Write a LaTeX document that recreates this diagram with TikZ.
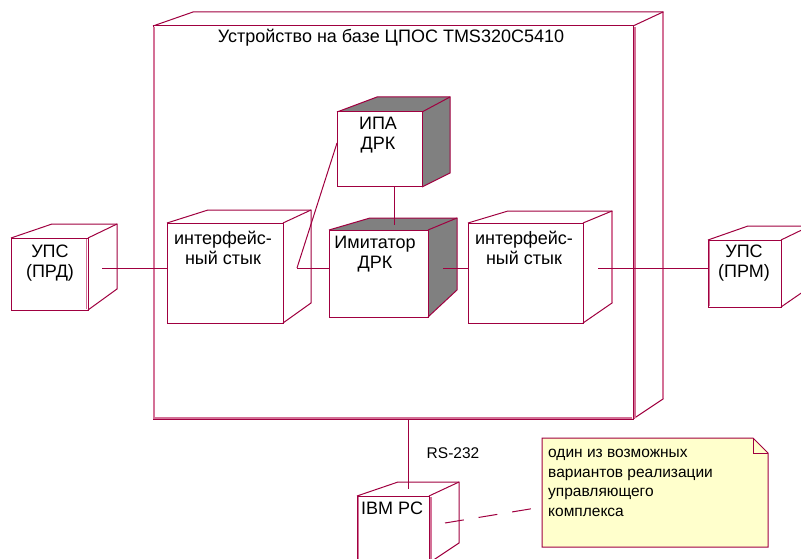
\documentclass[tikz,border=0pt]{standalone}
\usepackage{fontspec}
\setmainfont{Liberation Sans}
\definecolor{rose}{RGB}{160,0,64}
\definecolor{rosepink}{RGB}{212,112,150}
\definecolor{notefill}{RGB}{255,255,204}
\definecolor{darkface}{RGB}{128,128,128}
\tikzset{
  edge/.style={draw=rose, line width=1pt},
  front/.style={draw=rose, line width=1pt, fill=white, inner sep=0pt, outer sep=0pt, anchor=north west},
  lbl/.style={font=\fontsize{18}{20.5}\selectfont, align=center, inner sep=0pt, text=black},
  small/.style={font=\fontsize{15.5}{20}\selectfont, inner sep=0pt, text=black},
  notetext/.style={font=\fontsize{15.5}{19.7}\selectfont, align=left, inner sep=0pt, text=black},
  link/.style={draw=rose, line width=1pt},
  hl/.style={draw=rosepink, line width=1.3pt},
}
\def\rfill{white}
% name, x1, y1, x2, y2, back top y, back left x, back right x, back right bottom y
\newcommand{\rbox}[9]{%
  \fill[\rfill] (#2,#3) -- (#7,#6) -- (#8,#6) -- (#8,#9) -- (#4,#5) -- (#4,#3) -- cycle;
  \node[front, minimum width={#4pt-#2pt}, minimum height={#5pt-#3pt}] (#1) at (#2,#3) {};
  \draw[edge] (#1.north west) -- (#7,#6) -- (#8,#6) -- (#8,#9) -- (#1.south east);
  \draw[edge] (#1.north east) -- (#8,#6);
}
\begin{document}
\begin{tikzpicture}[x=1pt, y=-1pt]
\path[use as bounding box, fill=white] (0,0) rectangle (801,559);
\clip (0,0) rectangle (801,559);

% main device
\rbox{dev}{153}{26}{633}{419}{12}{193}{663}{399}
\draw[hl] (154,27) -- (154,418) -- (632,418);
\draw[hl] (635,27) -- (635,418);
\draw[hl] (663,13) -- (663,398);
\node[lbl] (title) at (391,38) {Устройство на базе ЦПОС TMS320C5410};

% external nodes
\rbox{prd}{11}{238}{88}{310}{224}{52}{117}{289}
\draw[hl] (86.5,239) -- (86.5,309);
\node[lbl] (prdt) at (50,263) {УПС\\(ПРД)};

\rbox{prm}{708}{240}{781}{307}{226}{748}{810}{287}
\draw[hl] (709.5,241) -- (709.5,306);
\node[lbl] (prmt) at (744,263) {УПС\\(ПРМ)};

% interfaces
\rbox{ifl}{167}{223}{283}{323}{210}{208}{311}{303}
\node[lbl] (iflt) at (223,248) {интерфейс-\\ный стык};

\rbox{ifr}{468}{223}{583}{323}{211}{508}{612}{303}
\draw[hl] (612,212) -- (612,302);
\node[lbl] (ifrt) at (524,248) {интерфейс-\\ный стык};

% shaded nodes
\def\rfill{darkface}
\rbox{ipa}{337}{112}{422}{187}{97}{377}{450}{173}
\node[lbl] (ipat) at (378,135) {ИПА\\ДРК};

\rbox{imit}{329}{230}{428}{317}{218}{370}{457}{290}
\node[lbl] (imitt) at (375,254) {Имитатор\\ДРК};
\def\rfill{white}

% IBM PC
\rbox{pc}{357}{496}{429}{563}{482}{398}{459}{543}
\draw[hl] (358.5,497) -- (358.5,559);
\draw[hl] (431,497) -- (431,559);
\node[lbl, anchor=west] (pct) at (361,508) {IBM PC};

% connectors
\coordinate (prdOut) at (102,268);
\draw[link] (prdOut) -- (prdOut -| ifl.west);
\coordinate (iflOut) at (297,268);
\draw[link] (iflOut) -- (iflOut -| imit.west);
\coordinate (ipaIn) at (337,143);
\draw[link] (iflOut) -- (ipaIn);
\coordinate (ipaOut) at (394,187);
\coordinate (imitIn) at (394,225);
\draw[link] (ipaOut) -- (imitIn);
\coordinate (imitOut) at (443,268);
\draw[link] (imitOut) -- (imitOut -| ifr.west);
\coordinate (ifrOut) at (598,268);
\draw[link] (ifrOut) -- (ifrOut -| prm.west);
\coordinate (devOut) at (408,419);
\coordinate (pcIn) at (408,489);
\draw[link] (devOut) -- (pcIn);
\node[small] (rs) at (453,453) {RS-232};

% note
\draw[rose, line width=1pt, fill=notefill] (542,438) -- (753,438) -- (768,453) -- (768,547) -- (542,547) -- cycle;
\draw[rose, line width=1pt] (753,438) -- (753,453) -- (768,453);
\node[notetext, anchor=north west] (note) at (548,449) {один из возможных\\вариантов  реализации\\управляющего\\комплекса};
\coordinate (pcOut) at (445,523);
\coordinate (noteIn) at (542,507);
\draw[link, dash pattern=on 19pt off 15pt] (pcOut) -- (noteIn);
\end{tikzpicture}
\end{document}
